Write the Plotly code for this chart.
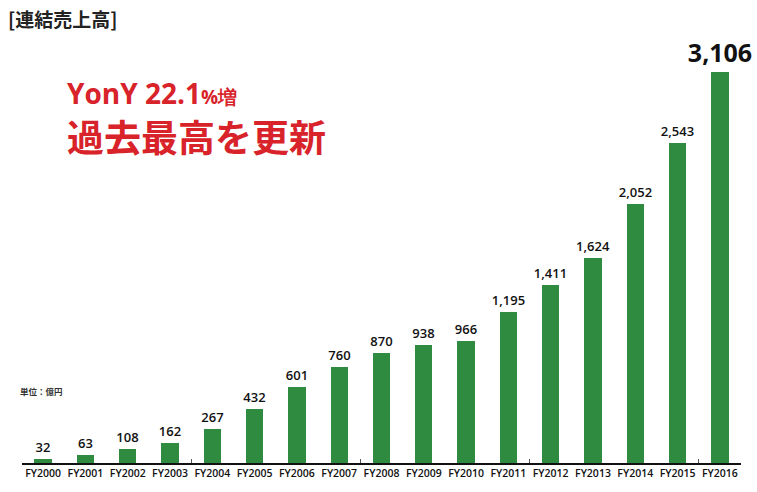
import plotly.graph_objects as go

years = ["FY2000","FY2001","FY2002","FY2003","FY2004","FY2005","FY2006","FY2007","FY2008",
         "FY2009","FY2010","FY2011","FY2012","FY2013","FY2014","FY2015","FY2016"]
sales = [32, 63, 108, 162, 267, 432, 601, 760, 870, 938, 966, 1195, 1411, 1624, 2052, 2543, 3106]

W, H = 757, 492
L, R, T, B = 22, 16, 30, 26
xs = list(range(len(years)))
labels = [f"{v:,}" for v in sales]
sizes = [13] * (len(sales) - 1) + [25]
weights = [600] * (len(sales) - 1) + [700]

def px(x):
    return (x - L) / (W - L - R)

def py(y):
    return (H - B - y) / (H - T - B)

fig = go.Figure()
fig.add_trace(go.Bar(
    x=xs, y=sales, width=0.41, marker_color="#2e8b3f", marker_line_width=0,
    text=labels, textposition="outside", cliponaxis=False, constraintext="none",
    textfont=dict(family="Open Sans", size=sizes, weight=weights, color="#111111"),
    hoverinfo="skip"))
# boundary tick marks on an overlaid axis
fig.add_trace(go.Scatter(x=[-0.5, 16.5], y=[0, 0], xaxis="x2", mode="lines",
                         line=dict(width=0), hoverinfo="skip", showlegend=False))

fig.update_layout(
    width=W, height=H, margin=dict(l=L, r=R, t=T, b=B),
    paper_bgcolor="white", plot_bgcolor="white", showlegend=False,
    bargap=0,
    xaxis=dict(range=[-0.5, 16.5], tickvals=xs, ticktext=years, ticks="",
               showgrid=False, zeroline=False, showline=True, linecolor="#111111",
               linewidth=1.5, tickfont=dict(family="Open Sans", size=10.5, weight=600, color="#111111")),
    xaxis2=dict(range=[-0.5, 16.5], overlaying="x", tickvals=[-0.5, 3.5, 7.5, 11.5, 15.5],
                ticks="inside", ticklen=4, tickcolor="#555555", showticklabels=False,
                showgrid=False, zeroline=False, showline=False, side="bottom"),
    yaxis=dict(range=[0, 3437], visible=False),
    font=dict(family="Noto Sans CJK JP"),
)

fig.add_annotation(xref="paper", yref="paper", x=px(7), y=py(18), xanchor="left", yanchor="middle",
                   text="<b>[連結売上高]</b>", showarrow=False, borderpad=0,
                   font=dict(family="Noto Sans CJK JP", size=19, color="#222222"))
fig.add_annotation(xref="paper", yref="paper", x=px(66), y=py(93), xanchor="left", yanchor="middle",
                   text="<b>YonY 22.1<span style='font-size:19px'>%増</span></b>", showarrow=False,
                   borderpad=0, font=dict(family="Open Sans", size=28, color="#d8232a"))
fig.add_annotation(xref="paper", yref="paper", x=px(66), y=py(137), xanchor="left", yanchor="middle",
                   text="<b>過去最高を更新</b>", showarrow=False, borderpad=0,
                   font=dict(family="Noto Sans CJK JP", size=37, color="#d8232a"))
fig.add_annotation(xref="paper", yref="paper", x=px(19), y=py(393), xanchor="left", yanchor="middle",
                   text="<b>単位：億円</b>", showarrow=False, borderpad=0,
                   font=dict(family="Noto Sans CJK JP", size=8.5, color="#333333"))

fig.write_html("out.html")
